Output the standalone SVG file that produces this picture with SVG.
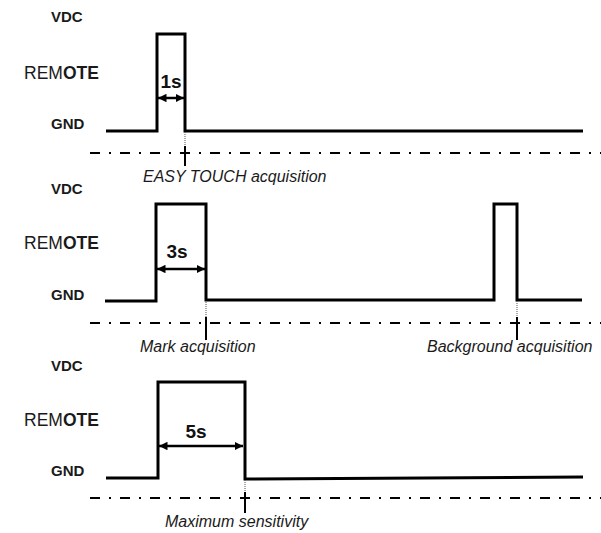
<svg xmlns="http://www.w3.org/2000/svg" width="601" height="533" viewBox="0 0 601 533">
<style>
.lbl{font-family:"Liberation Sans",Arial,sans-serif;font-weight:bold;font-size:15px;fill:#1a1a1a}
.rem{font-family:"Liberation Sans",Arial,sans-serif;font-size:17.5px;fill:#1a1a1a}
.dur{font-family:"Liberation Sans",Arial,sans-serif;font-weight:bold;font-size:19px;fill:#111}
.note{font-family:"Liberation Sans",Arial,sans-serif;font-style:italic;font-size:16px;fill:#1a1a1a}
.sig{fill:none;stroke:#000;stroke-width:3;stroke-linejoin:miter}
.axis{fill:none;stroke:#000;stroke-width:2.2;stroke-dasharray:10 9 2 9}
.tick{stroke:#000;stroke-width:2}
.guide{stroke:#555;stroke-width:1;stroke-dasharray:1 1}
.dim{stroke:#000;stroke-width:2.5;marker-start:url(#ah);marker-end:url(#ah)}
</style>
<defs>
<marker id="ah" viewBox="0 0 10 10" refX="10" refY="5" markerWidth="3.4" markerHeight="3.4" orient="auto-start-reverse" markerUnits="strokeWidth">
<path d="M0,0 L10,5 L0,10 z" fill="#000"/>
</marker>
</defs>

<g id="panel1">
<text class="lbl" x="51" y="22">VDC</text>
<text class="rem" x="24" y="79">REM<tspan font-weight="bold">OTE</tspan></text>
<text class="lbl" x="51" y="129">GND</text>
<path class="sig" d="M106,131 H157 V34 H185 V131 H583"/>
<text class="dur" x="171" y="88" text-anchor="middle">1s</text>
<line class="dim" x1="158" y1="98" x2="184" y2="98"/>
<line class="axis" x1="90" y1="153" x2="601" y2="153"/>
<line class="guide" x1="185" y1="132" x2="185" y2="146"/>
<line class="tick" x1="185" y1="146" x2="185" y2="166"/>
<text class="note" x="143" y="182">EASY TOUCH acquisition</text>
</g>

<g id="panel2">
<text class="lbl" x="51" y="194">VDC</text>
<text class="rem" x="24" y="249">REM<tspan font-weight="bold">OTE</tspan></text>
<text class="lbl" x="51" y="300">GND</text>
<path class="sig" d="M105,301 H156 V204 H206 V300 H494 V204 H517 V300 H582"/>
<text class="dur" x="177" y="258" text-anchor="middle">3s</text>
<line class="dim" x1="157" y1="269" x2="205" y2="269"/>
<line class="axis" x1="90" y1="323" x2="601" y2="323"/>
<line class="guide" x1="206" y1="302" x2="206" y2="317"/>
<line class="tick" x1="206" y1="317" x2="206" y2="340"/>
<line class="guide" x1="517" y1="301" x2="517" y2="317"/>
<line class="tick" x1="517" y1="317" x2="517" y2="340"/>
<text class="note" x="140" y="352">Mark acquisition</text>
<text class="note" x="427" y="352">Background acquisition</text>
</g>

<g id="panel3">
<text class="lbl" x="51" y="371">VDC</text>
<text class="rem" x="24" y="426">REM<tspan font-weight="bold">OTE</tspan></text>
<text class="lbl" x="51" y="476">GND</text>
<path class="sig" d="M106,478 H158 V382 H245 V479 L583,477"/>
<text class="dur" x="196" y="438" text-anchor="middle">5s</text>
<line class="dim" x1="159" y1="446" x2="243" y2="446"/>
<line class="axis" x1="90" y1="498" x2="601" y2="498"/>
<line class="guide" x1="245" y1="480" x2="245" y2="492"/>
<line class="tick" x1="245" y1="492" x2="245" y2="513"/>
<text class="note" x="165" y="527">Maximum sensitivity</text>
</g>
</svg>
